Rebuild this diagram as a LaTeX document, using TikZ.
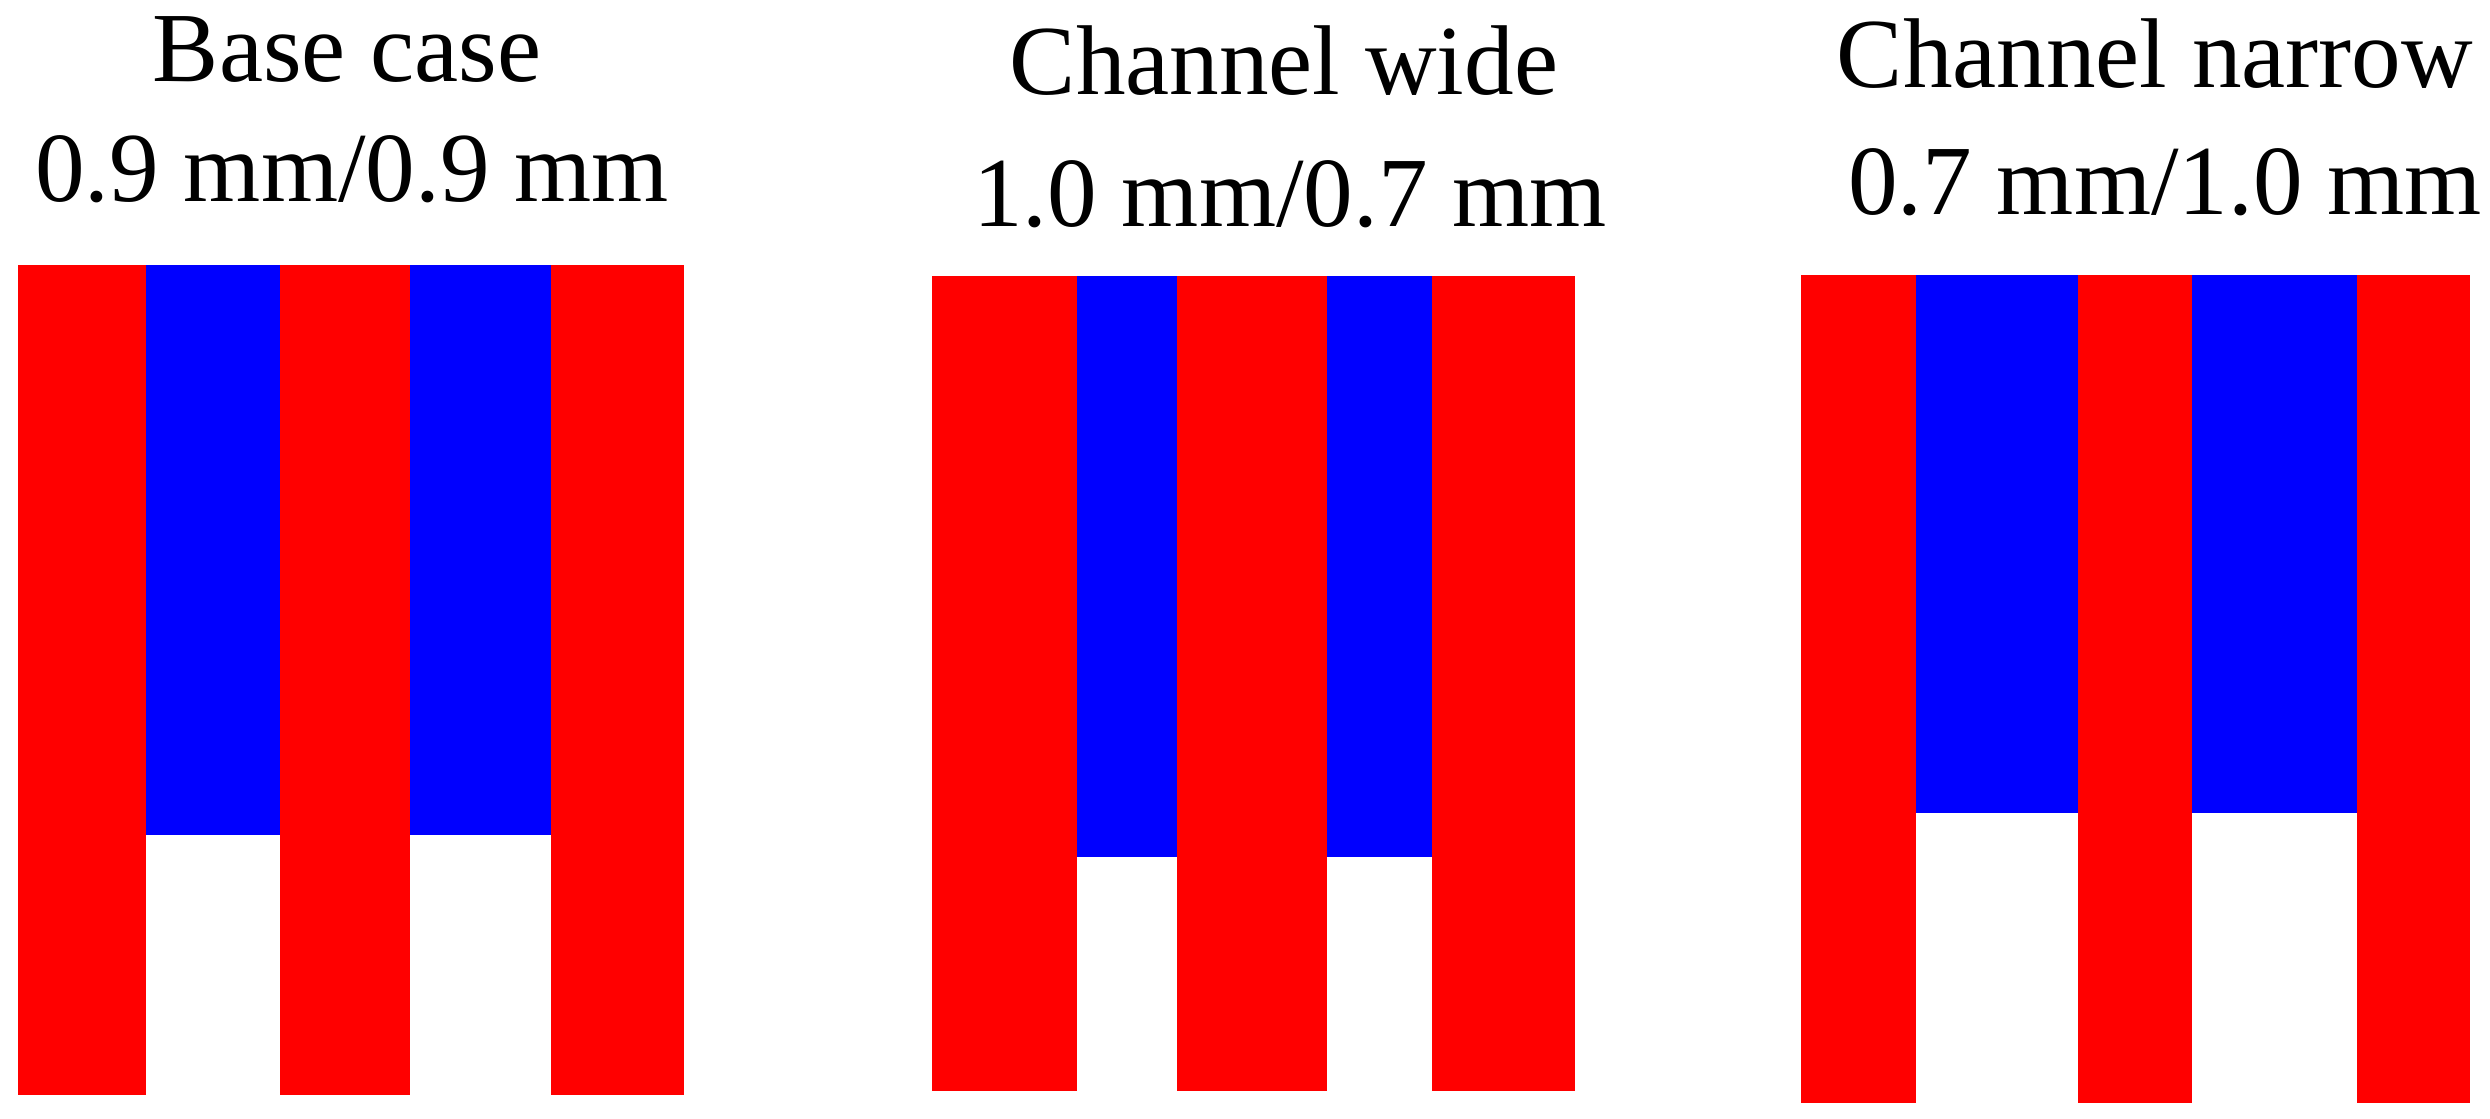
\documentclass[tikz,border=0pt]{standalone}
\usepackage{fontspec}
\setmainfont{Liberation Serif}
\definecolor{chred}{RGB}{255,0,0}
\definecolor{chblue}{RGB}{0,0,255}
\tikzset{
  rib/.style={fill=chred, draw=none},
  chan/.style={fill=chblue, draw=none},
  ttl/.style={anchor=base, inner sep=0pt, font=\fontsize{28.2}{34}\selectfont}
}
\begin{document}
\begin{tikzpicture}[x=0.01cm, y=-0.01cm]
\useasboundingbox[fill=white] (0,0) rectangle (2490,1119);
% titles
\node[ttl] (t1a) at (347,82) {Base case};
\node[ttl] (t1b) at (352,202) {0.9 mm/0.9 mm};
\node[ttl] (t2a) at (1284,95) {Channel wide};
\node[ttl] (t2b) at (1290,227) {1.0 mm/0.7 mm};
\node[ttl] (t3a) at (2155,88) {Channel narrow};
\node[ttl] (t3b) at (2165,215) {0.7 mm/1.0 mm};
% panel 1
\fill[chan] (146,265) rectangle (280,835);
\fill[chan] (410,265) rectangle (551,835);
\fill[rib] (18,265) rectangle (146,1095);
\fill[rib] (280,265) rectangle (410,1095);
\fill[rib] (551,265) rectangle (684,1095);
% panel 2
\fill[chan] (1077,276) rectangle (1177,857);
\fill[chan] (1327,276) rectangle (1432,857);
\fill[rib] (932,276) rectangle (1077,1091);
\fill[rib] (1177,276) rectangle (1327,1091);
\fill[rib] (1432,276) rectangle (1575,1091);
% panel 3
\fill[chan] (1916,275) rectangle (2078,813);
\fill[chan] (2192,275) rectangle (2357,813);
\fill[rib] (1801,275) rectangle (1916,1103);
\fill[rib] (2078,275) rectangle (2192,1103);
\fill[rib] (2357,275) rectangle (2470,1103);
\end{tikzpicture}
\end{document}
